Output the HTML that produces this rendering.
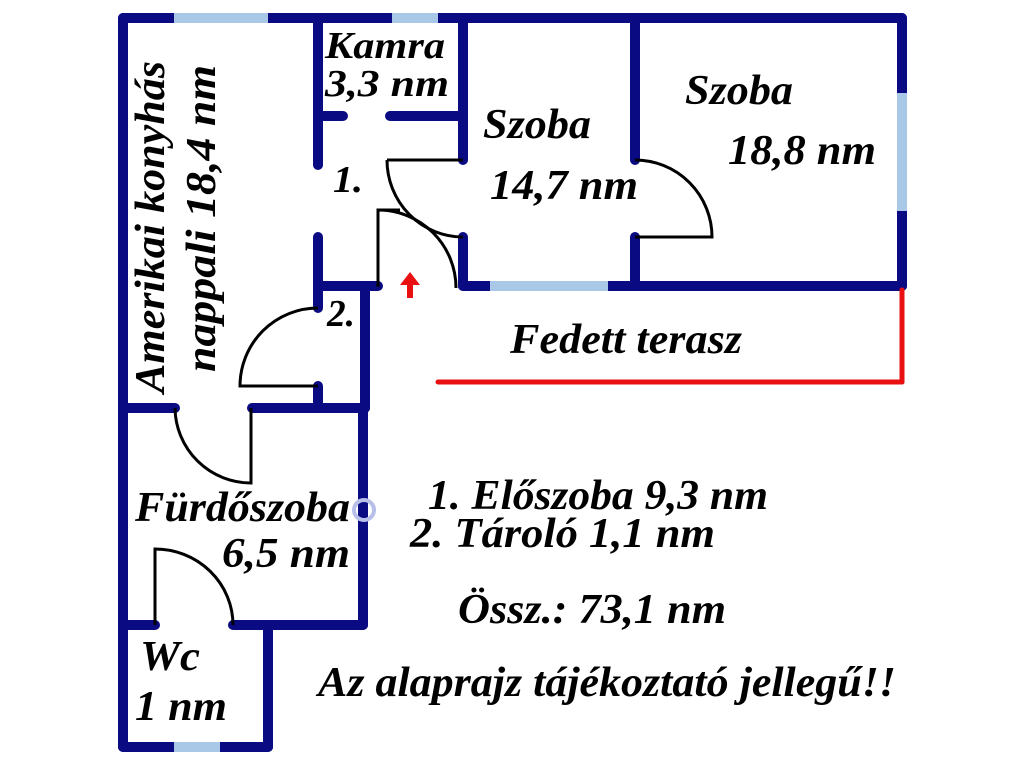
<!DOCTYPE html>
<html><head><meta charset="utf-8"><style>
html,body{margin:0;padding:0;background:#fff;width:1024px;height:768px;overflow:hidden}
text{font-family:"Liberation Serif",serif;font-style:italic;font-weight:bold;fill:#000}
</style></head><body>
<svg width="1024" height="768" viewBox="0 0 1024 768" xmlns="http://www.w3.org/2000/svg">
<g stroke="#0a0a82" stroke-width="10" stroke-linecap="round" fill="none">
<line x1="123" y1="18" x2="902" y2="18"/>
<line x1="123" y1="18" x2="123" y2="747"/>
<line x1="902" y1="18" x2="902" y2="286"/>
<line x1="318" y1="18" x2="318" y2="165"/>
<line x1="318" y1="237" x2="318" y2="286"/>
<line x1="463" y1="18" x2="463" y2="160"/>
<line x1="318" y1="116" x2="343" y2="116"/>
<line x1="390" y1="116" x2="463" y2="116"/>
<line x1="463" y1="237" x2="463" y2="286"/>
<line x1="318" y1="286" x2="378" y2="286"/>
<line x1="463" y1="286" x2="902" y2="286"/>
<line x1="635" y1="18" x2="635" y2="160"/>
<line x1="635" y1="237" x2="635" y2="286"/>
<line x1="365" y1="286" x2="365" y2="408"/>
<line x1="318" y1="286" x2="318" y2="308"/>
<line x1="318" y1="386" x2="318" y2="408"/>
<line x1="123" y1="408" x2="175" y2="408"/>
<line x1="252" y1="408" x2="365" y2="408"/>
<line x1="363" y1="408" x2="363" y2="625"/>
<line x1="123" y1="625" x2="155" y2="625"/>
<line x1="233" y1="625" x2="363" y2="625"/>
<line x1="268" y1="625" x2="268" y2="747"/>
<line x1="123" y1="747" x2="268" y2="747"/>
</g>
<g stroke="#a9c8e8" stroke-width="10" fill="none">
<line x1="174" y1="18" x2="268" y2="18"/>
<line x1="392" y1="18" x2="438" y2="18"/>
<line x1="902" y1="93" x2="902" y2="211"/>
<line x1="490" y1="286" x2="608" y2="286"/>
<line x1="174" y1="747" x2="220" y2="747"/>
</g>
<g stroke="#000" stroke-width="3" fill="none">
<path d="M387 160 L463 160 M387 160 A76 77 0 0 0 463 237"/>
<path d="M378 287 L378 210 L400 210 M378 210 A78 78 0 0 1 456 288"/>
<path d="M318 308 A78 78 0 0 0 240 386 L318 386"/>
<path d="M175 408 A76 76 0 0 0 251 483 L251 408"/>
<path d="M155 625 L155 549 A78 76 0 0 1 233 625"/>
<path d="M635 160 A77 77 0 0 1 712 237 L635 237"/>
</g>
<g stroke="#e81010" stroke-width="5" stroke-linecap="round" fill="none">
<line x1="902" y1="290" x2="902" y2="382"/>
<line x1="438" y1="382" x2="902" y2="382"/>
</g>
<path d="M410 272 L420 285 L413 285 L413 298 L407 298 L407 285 L400 285 Z" fill="#e81010"/>
<circle cx="364" cy="510" r="10" fill="none" stroke="#b8bfe8" stroke-width="4"/>
<g lengthAdjust="spacingAndGlyphs">
<text x="325" y="58" font-size="38" textLength="120" lengthAdjust="spacingAndGlyphs">Kamra</text>
<text x="325" y="96" font-size="38" textLength="124" lengthAdjust="spacingAndGlyphs">3,3 nm</text>
<text x="333" y="192" font-size="38" textLength="30" lengthAdjust="spacingAndGlyphs">1.</text>
<text x="327" y="326" font-size="38" textLength="28" lengthAdjust="spacingAndGlyphs">2.</text>
<text transform="translate(164,393) rotate(-90)" font-size="42" textLength="332" lengthAdjust="spacingAndGlyphs">Amerikai konyhás</text>
<text transform="translate(215,372) rotate(-90)" font-size="42" textLength="307" lengthAdjust="spacingAndGlyphs">nappali 18,4 nm</text>
<text x="483" y="138" font-size="42" textLength="108" lengthAdjust="spacingAndGlyphs">Szoba</text>
<text x="490" y="199" font-size="42" textLength="148" lengthAdjust="spacingAndGlyphs">14,7 nm</text>
<text x="685" y="104" font-size="42" textLength="108" lengthAdjust="spacingAndGlyphs">Szoba</text>
<text x="728" y="164" font-size="42" textLength="148" lengthAdjust="spacingAndGlyphs">18,8 nm</text>
<text x="510" y="353" font-size="42" textLength="232" lengthAdjust="spacingAndGlyphs">Fedett terasz</text>
<text x="135" y="521" font-size="42" textLength="215" lengthAdjust="spacingAndGlyphs">Fürdőszoba</text>
<text x="222" y="567" font-size="42" textLength="128" lengthAdjust="spacingAndGlyphs">6,5 nm</text>
<text x="140" y="670" font-size="42" textLength="60" lengthAdjust="spacingAndGlyphs">Wc</text>
<text x="135" y="720" font-size="42" textLength="92" lengthAdjust="spacingAndGlyphs">1 nm</text>
<text x="428" y="509" font-size="42" textLength="340" lengthAdjust="spacingAndGlyphs">1. Előszoba 9,3 nm</text>
<text x="410" y="547" font-size="42" textLength="305" lengthAdjust="spacingAndGlyphs">2. Tároló 1,1 nm</text>
<text x="458" y="623" font-size="42" textLength="268" lengthAdjust="spacingAndGlyphs">Össz.: 73,1 nm</text>
<text x="318" y="696" font-size="42" textLength="578" lengthAdjust="spacingAndGlyphs">Az alaprajz tájékoztató jellegű!!</text>
</g>
</svg>
</body></html>
